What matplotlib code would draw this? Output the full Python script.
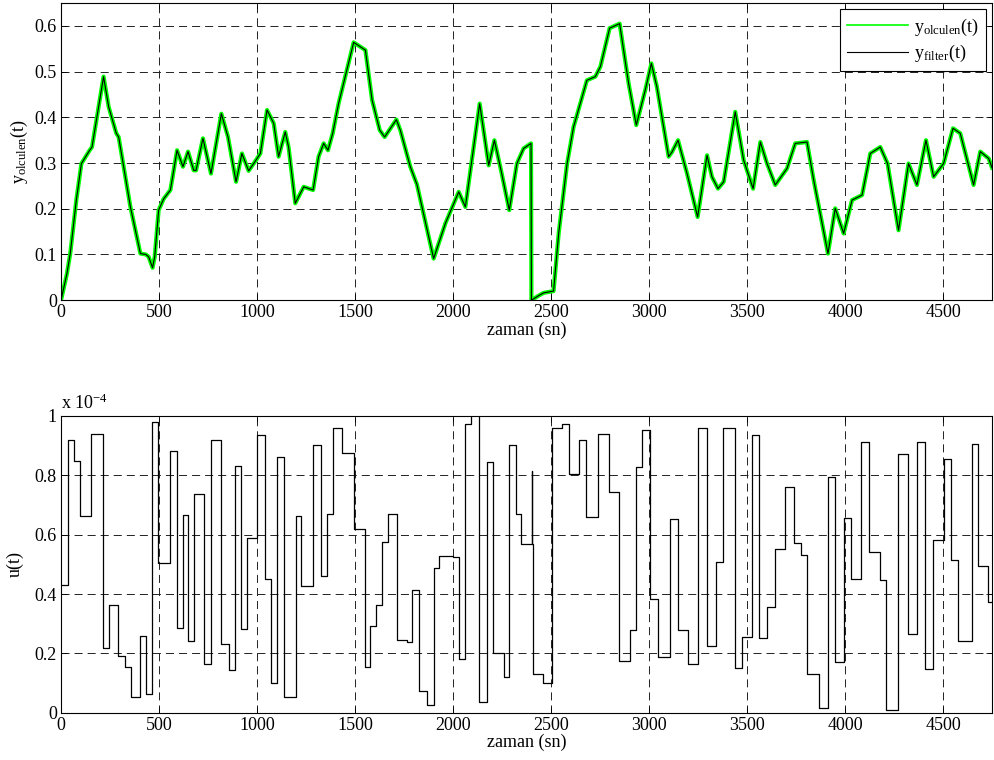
import matplotlib
matplotlib.use('Agg')
import matplotlib.pyplot as plt
from matplotlib.ticker import FuncFormatter

plt.rcParams['font.family'] = ['Liberation Serif', 'DejaVu Serif']
plt.rcParams['mathtext.fontset'] = 'custom'
plt.rcParams['mathtext.rm'] = 'Liberation Serif'
plt.rcParams['mathtext.it'] = 'Liberation Serif'
plt.rcParams['font.size'] = 13
plt.rcParams['lines.scale_dashes'] = False

# filtered output y_filter(t), knot points
f_t = [0, 30, 47, 78, 104, 146, 158, 217, 243, 282,
       294, 354, 405, 433, 447, 467, 478, 498, 524, 558,
       592, 622, 648, 677, 689, 724, 765, 818, 852, 893,
       923, 957, 991, 1017, 1051, 1085, 1110, 1144, 1161, 1195,
       1238, 1286, 1314, 1340, 1362, 1386, 1416, 1493, 1553, 1587,
       1626, 1651, 1711, 1731, 1782, 1816, 1901, 1961, 2029, 2063,
       2136, 2182, 2211, 2245, 2287, 2326, 2360, 2398, 2400, 2437,
       2462, 2513, 2539, 2582, 2615, 2649, 2683, 2726, 2752, 2799,
       2850, 2896, 2935, 2981, 3012, 3040, 3100, 3117, 3148, 3194,
       3248, 3296, 3321, 3352, 3381, 3440, 3483, 3531, 3568, 3602,
       3644, 3704, 3746, 3806, 3840, 3913, 3950, 3993, 4036, 4087,
       4129, 4180, 4217, 4273, 4324, 4367, 4413, 4452, 4503, 4551,
       4588, 4656, 4690, 4733, 4750]
f_v = [0.0, 0.058, 0.102, 0.219, 0.299, 0.328, 0.335, 0.489, 0.423, 0.365,
       0.357, 0.204, 0.102, 0.1, 0.095, 0.071, 0.095, 0.197, 0.222, 0.241,
       0.328, 0.292, 0.325, 0.284, 0.284, 0.354, 0.277, 0.408, 0.357, 0.259,
       0.321, 0.283, 0.304, 0.321, 0.416, 0.387, 0.314, 0.368, 0.335, 0.212,
       0.248, 0.241, 0.314, 0.343, 0.328, 0.365, 0.43, 0.564, 0.547, 0.438,
       0.372, 0.357, 0.395, 0.372, 0.292, 0.253, 0.091, 0.168, 0.237, 0.204,
       0.43, 0.295, 0.35, 0.284, 0.197, 0.299, 0.332, 0.343, 0.0, 0.01,
       0.016, 0.02, 0.146, 0.299, 0.379, 0.43, 0.481, 0.489, 0.511, 0.595,
       0.605, 0.474, 0.383, 0.46, 0.518, 0.467, 0.314, 0.324, 0.35, 0.277,
       0.182, 0.317, 0.27, 0.244, 0.259, 0.412, 0.306, 0.244, 0.346, 0.299,
       0.252, 0.288, 0.343, 0.346, 0.263, 0.102, 0.201, 0.146, 0.219, 0.23,
       0.321, 0.335, 0.299, 0.153, 0.299, 0.252, 0.35, 0.27, 0.299, 0.376,
       0.365, 0.252, 0.325, 0.31, 0.29]
# measured output follows the same path (noise band drawn wider)
m_t = f_t
m_v = f_v

# input u(t), step changes (units of 1e-4)
u_t = [0, 34, 64, 97, 155, 214, 243, 292, 325, 359,
       403, 435, 466, 495, 554, 590, 620, 650, 680, 728,
       763, 816, 855, 889, 918, 949, 1000, 1041, 1071, 1103,
       1139, 1197, 1226, 1285, 1328, 1357, 1388, 1435, 1495, 1549,
       1578, 1609, 1638, 1668, 1714, 1763, 1792, 1825, 1869, 1901,
       1930, 2001, 2032, 2061, 2090, 2133, 2173, 2204, 2258, 2287,
       2321, 2348, 2401, 2404, 2407, 2459, 2505, 2556, 2590, 2641, 2681,
       2741, 2794, 2847, 2901, 2932, 2962, 3003, 3046, 3105, 3146,
       3200, 3248, 3296, 3342, 3379, 3439, 3472, 3527, 3563, 3600,
       3644, 3692, 3738, 3777, 3808, 3867, 3911, 3947, 3993, 4029,
       4082, 4124, 4177, 4209, 4269, 4320, 4369, 4410, 4448, 4505,
       4541, 4578, 4648, 4680, 4728, 4750]
u_v = [0.43, 0.917, 0.846, 0.661, 0.94, 0.217, 0.362, 0.19, 0.155, 0.053,
       0.26, 0.064, 0.98, 0.504, 0.882, 0.287, 0.666, 0.241, 0.735, 0.166,
       0.917, 0.232, 0.143, 0.83, 0.283, 0.587, 0.934, 0.449, 0.102, 0.862,
       0.053, 0.661, 0.427, 0.901, 0.461, 0.67, 0.96, 0.875, 0.62, 0.155,
       0.292, 0.364, 0.576, 0.67, 0.246, 0.24, 0.413, 0.075, 0.028, 0.488,
       0.528, 0.524, 0.182, 0.972, 1.05, 0.037, 0.845, 0.2, 0.122, 0.901,
       0.67, 0.568, 0.815, 0.568, 0.131, 0.099, 0.959, 0.972, 0.804, 0.917, 0.658,
       0.937, 0.744, 0.174, 0.28, 0.826, 0.952, 0.383, 0.189, 0.651, 0.28,
       0.166, 0.96, 0.225, 0.509, 0.96, 0.152, 0.257, 0.934, 0.253, 0.355,
       0.551, 0.76, 0.57, 0.532, 0.131, 0.017, 0.795, 0.171, 0.657, 0.452,
       0.912, 0.54, 0.446, 0.009, 0.871, 0.264, 0.912, 0.147, 0.582, 0.854,
       0.515, 0.241, 0.906, 0.494, 0.372, 0.372]

fig = plt.figure(figsize=(9.94, 7.6), dpi=100)
ax1 = fig.add_axes([0.0614, 0.605, 0.9366, 0.391])
ax2 = fig.add_axes([0.0614, 0.062, 0.9366, 0.391])

gfmt = FuncFormatter(lambda v, p: '%g' % round(v, 6))

# top plot
ax1.plot(m_t, m_v, color='#00ff00', lw=3.0, label=r'y$_{\mathrm{olculen}}$(t)')
ax1.plot(f_t, f_v, color='black', lw=0.8, label=r'y$_{\mathrm{filter}}$(t)')
ax1.set_xlim(0, 4750)
ax1.set_ylim(0, 0.65)
ax1.set_yticks([0, 0.1, 0.2, 0.3, 0.4, 0.5, 0.6])
ax1.set_xticks(range(0, 4750, 500))
ax1.yaxis.set_major_formatter(gfmt)
ax1.set_xlabel('zaman (sn)', labelpad=0)
ax1.set_ylabel(r'y$_{\mathrm{olculen}}$(t)', labelpad=3)
leg = ax1.legend(loc='upper right', fancybox=False, edgecolor='black',
                 framealpha=1, handlelength=3.4, borderaxespad=0.35,
                 handletextpad=0.3, labelspacing=0.3, fontsize=13)
leg.get_frame().set_linewidth(0.8)
leg.get_lines()[0].set_linewidth(1.2)

# bottom plot
ax2.step(u_t, u_v, where='post', color='black', lw=0.9)
ax2.set_xlim(0, 4750)
ax2.set_ylim(0, 1)
ax2.set_yticks([0, 0.2, 0.4, 0.6, 0.8, 1])
ax2.set_xticks(range(0, 4750, 500))
ax2.yaxis.set_major_formatter(gfmt)
ax2.set_xlabel('zaman (sn)', labelpad=0)
ax2.set_ylabel('u(t)', labelpad=8)
ax2.text(0.0, 1.01, r'x 10$^{-4}$', transform=ax2.transAxes,
         ha='left', va='bottom', fontsize=13)

for ax in (ax1, ax2):
    ax.grid(True, color='#222222', linestyle=(0, (5.8, 3.6)), lw=0.7)
    ax.tick_params(direction='in', length=4, width=0.6, top=True, right=True,
                   labelsize=13, pad=3)
    for s in ax.spines.values():
        s.set_linewidth(0.8)

fig.savefig('out.png', dpi=100)
